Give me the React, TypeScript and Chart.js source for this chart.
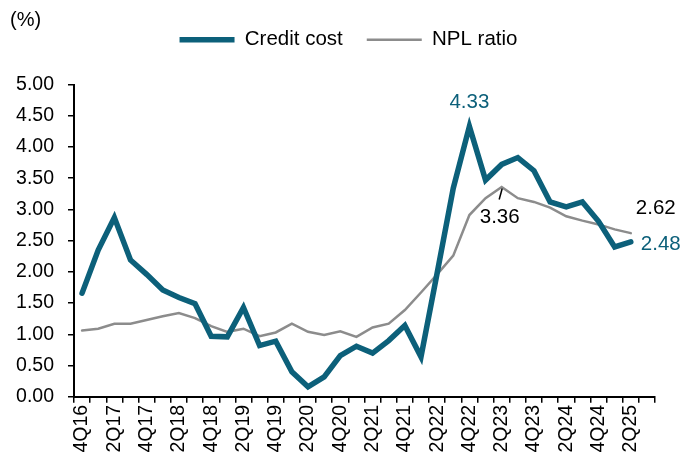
import React, { useEffect, useRef } from "react";
import { Chart, registerables } from "chart.js";

Chart.register(...registerables);

const quarters = [
  "4Q16", "1Q17", "2Q17", "3Q17", "4Q17", "1Q18", "2Q18", "3Q18", "4Q18",
  "1Q19", "2Q19", "3Q19", "4Q19", "1Q20", "2Q20", "3Q20", "4Q20",
  "1Q21", "2Q21", "3Q21", "4Q21", "1Q22", "2Q22", "3Q22", "4Q22",
  "1Q23", "2Q23", "3Q23", "4Q23", "1Q24", "2Q24", "3Q24", "4Q24",
  "1Q25", "2Q25", "3Q25",
];

const creditCost = [
  1.66, 2.35, 2.87, 2.19, 1.96, 1.71, 1.59, 1.49, 0.97,
  0.96, 1.43, 0.82, 0.89, 0.40, 0.16, 0.32, 0.66,
  0.81, 0.70, 0.90, 1.14, 0.64, 1.98, 3.34, 4.33,
  3.47, 3.72, 3.83, 3.62, 3.12, 3.04, 3.12, 2.81,
  2.40, 2.48,
];

const nplRatio = [
  1.06, 1.09, 1.17, 1.17, 1.23, 1.29, 1.34, 1.26, 1.13,
  1.04, 1.09, 0.97, 1.03, 1.17, 1.04, 0.99, 1.05,
  0.96, 1.11, 1.17, 1.39, 1.67, 1.96, 2.26, 2.91,
  3.18, 3.36, 3.18, 3.12, 3.03, 2.89, 2.82, 2.76,
  2.68, 2.62,
];

const yTicks = [0, 0.5, 1, 1.5, 2, 2.5, 3, 3.5, 4, 4.5, 5];
const unitLabel = "(%)";

const TEAL = "#0C607A";
const GRAY = "#8C8C8C";
const FONT = "'Liberation Sans', Arial, sans-serif";

const annotationPlugin = {
  id: "annotations",
  afterDatasetsDraw(chart: any) {
    const ctx = chart.ctx;
    const cc = chart.getDatasetMeta(0).data;
    const np = chart.getDatasetMeta(1).data;
    const peakIdx = creditCost.indexOf(Math.max(...creditCost));
    const nplPeakIdx = nplRatio.indexOf(Math.max(...nplRatio));
    const lastCC = creditCost.length - 1;
    const lastNP = nplRatio.length - 1;
    ctx.save();
    ctx.font = `20.5px ${FONT}`;
    ctx.textBaseline = "middle";

    // Credit cost peak
    let p = cc[peakIdx];
    ctx.fillStyle = TEAL;
    ctx.textAlign = "center";
    ctx.fillText(creditCost[peakIdx].toFixed(2), p.x, p.y - 24);

    // NPL peak with leader line
    p = np[nplPeakIdx];
    ctx.strokeStyle = "#000";
    ctx.lineWidth = 1.5;
    ctx.beginPath();
    ctx.moveTo(p.x + 0.5, p.y + 1.5);
    ctx.lineTo(p.x - 2.5, p.y + 12.5);
    ctx.stroke();
    ctx.fillStyle = "#000";
    ctx.fillText(nplRatio[nplPeakIdx].toFixed(2), p.x - 2, p.y + 30);

    // last NPL
    p = np[lastNP];
    ctx.fillText(nplRatio[lastNP].toFixed(2), p.x + 25, p.y - 25);

    // last credit cost
    p = cc[lastCC];
    ctx.fillStyle = TEAL;
    ctx.textAlign = "left";
    ctx.fillText(creditCost[lastCC].toFixed(2), p.x + 10, p.y + 2);

    // unit label
    ctx.fillStyle = "#000";
    ctx.textAlign = "left";
    ctx.font = `20px ${FONT}`;
    ctx.fillText(unitLabel, 10, 20);
    ctx.restore();
  },
};

export default function App() {
  const ref = useRef<HTMLCanvasElement | null>(null);

  useEffect(() => {
    if (!ref.current) return;
    const chart = new Chart(ref.current, {
      type: "line",
      data: {
        labels: quarters,
        datasets: [
          {
            label: "Credit cost",
            data: creditCost,
            borderColor: TEAL,
            backgroundColor: TEAL,
            borderWidth: 5.5,
            borderJoinStyle: "miter",
            borderCapStyle: "round",
            pointRadius: 0,
            tension: 0,
          },
          {
            label: "NPL ratio",
            data: nplRatio,
            borderColor: GRAY,
            backgroundColor: GRAY,
            borderWidth: 2.5,
            borderCapStyle: "round",
            pointRadius: 0,
            tension: 0,
          },
        ],
      },
      options: {
        responsive: false,
        animation: false,
        layout: { padding: { left: 16, right: 2, top: 5.5, bottom: 9.5 } },
        plugins: {
          legend: {
            position: "top",
            labels: {
              usePointStyle: true,
              pointStyle: "line",
              pointStyleWidth: 55,
              color: "#000",
              padding: 24,
              font: { family: FONT, size: 20.5 },
            },
          },
          tooltip: { enabled: false },
        },
        scales: {
          x: {
            type: "category",
            offset: true,
            grid: {
              offset: true,
              drawOnChartArea: false,
              drawTicks: true,
              tickLength: 6,
              color: "#000",
              lineWidth: 1.5,
            },
            border: { display: true, color: "#000", width: 2 },
            ticks: {
              autoSkip: false,
              minRotation: 90,
              maxRotation: 90,
              padding: 2,
              color: "#000",
              font: { family: FONT, size: 19.5 },
              callback: (_v: any, i: number) => (i % 2 === 0 ? quarters[i] : ""),
            },
          },
          xTop: {
            type: "linear",
            position: "top",
            display: true,
            grid: { display: false },
            border: { display: false },
            ticks: { display: false },
            afterFit: (s: any) => {
              s.height = 24.5;
            },
          },
          y: {
            type: "linear",
            min: 0,
            max: 5,
            afterBuildTicks: (s: any) => {
              s.ticks = yTicks.map((v) => ({ value: v }));
            },
            afterFit: (s: any) => {
              s.width = 58;
            },
            grid: {
              drawOnChartArea: false,
              drawTicks: true,
              tickLength: 6,
              color: "#000",
              lineWidth: 1.5,
            },
            border: { display: true, color: "#000", width: 2 },
            ticks: {
              padding: 14,
              color: "#000",
              font: { family: FONT, size: 19.5 },
              callback: (v: any) => Number(v).toFixed(2),
            },
          },
          yRight: {
            type: "linear",
            position: "right",
            display: true,
            grid: { display: false },
            border: { display: false },
            ticks: { display: false },
            afterFit: (s: any) => {
              s.width = 26;
            },
          },
        },
      },
      plugins: [annotationPlugin],
    } as any);
    return () => chart.destroy();
  }, []);

  return (
    <div style={{ position: "absolute", left: 0, top: 0, width: 683, height: 464, background: "#fff" }}>
      <canvas ref={ref} width={683} height={464} />
    </div>
  );
}
